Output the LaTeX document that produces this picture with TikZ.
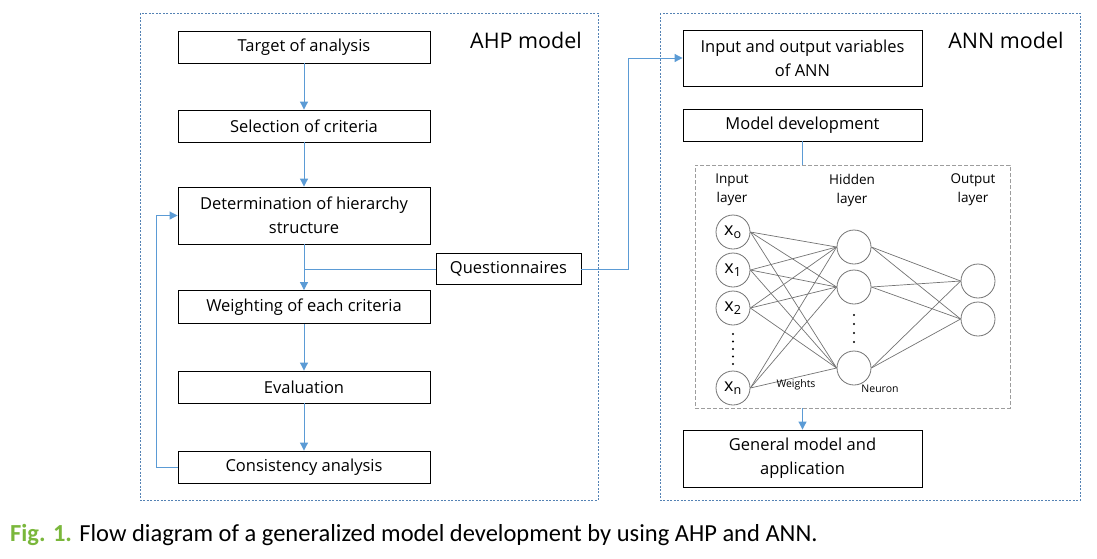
\documentclass[tikz,border=0pt]{standalone}
\usepackage{fontspec}
\setmainfont{Open Sans}
\newfontfamily\capfont{Carlito}
\usetikzlibrary{arrows.meta, positioning, calc}
\definecolor{flowBlue}{RGB}{91,155,213}
\definecolor{frameBlue}{RGB}{84,130,180}
\definecolor{netGray}{gray}{0.45}
\definecolor{capGreen}{RGB}{122,183,59}

\begin{document}
\begin{tikzpicture}[x=1pt, y=-1pt, >={Triangle[length=8pt, width=8pt]},
    stepbox/.style={draw, line width=0.9pt, minimum width=252, minimum height=32, align=center, font=\fontsize{16.5}{24}\selectfont, inner sep=0pt},
    flow/.style={flowBlue, line width=1pt},
    conn/.style={flow, ->},
    neuron/.style={draw=netGray, line width=0.8pt, circle, minimum size=34, inner sep=0pt, font=\fontsize{18}{18}\selectfont},
    netlabel/.style={align=center, font=\fontsize{13.5}{19}\selectfont}]
    \useasboundingbox (0,0) rectangle (1097,558);

    % Frames
    \draw[frameBlue, line width=0.9pt, dash pattern=on 2pt off 1.5pt] (140,13) rectangle (598,500);
    \draw[frameBlue, line width=0.9pt, dash pattern=on 2pt off 1.5pt] (660,13) rectangle (1080,500);
    \node[font=\fontsize{21.5}{21.5}\selectfont] (ahp) at (526,40) {AHP model};
    \node[font=\fontsize{21.5}{21.5}\selectfont] (ann) at (1006,40) {ANN model};

    % AHP steps
    \node[stepbox] (tgt) at (304,47) {Target of analysis};
    \node[stepbox] (sel) at (304,126) {Selection of criteria};
    \node[stepbox, minimum height=57] (det) at (304,215.5) {Determination of hierarchy\\structure};
    \node[stepbox, minimum height=33] (wgt) at (304,307) {Weighting of each criteria};
    \node[stepbox] (eva) at (304,387) {Evaluation};
    \node[stepbox] (cons) at (304,467) {Consistency analysis};
    \node[stepbox, minimum width=145, minimum height=31] (quest) at (508.5,269) {Questionnaires};

    \draw[conn] (tgt) -- (sel);
    \draw[conn] (sel) -- (det);
    \draw[conn] (det) -- (wgt);
    \draw[conn] (wgt) -- (eva);
    \draw[conn] (eva) -- (cons);
    \draw[flow] (quest.west) -- (quest.west -| det.south);
    \draw[conn] (cons.west) -- ++(-21,0) |- (det.west);

    % ANN steps
    \node[stepbox, minimum width=239, minimum height=56] (inp) at (802.5,58) {Input and output variables\\of ANN};
    \node[stepbox, minimum width=239] (dev) at (802.5,125) {Model development};
    \node[stepbox, minimum width=239, minimum height=57] (gen) at (802.5,458.5) {General model and\\application};
    \node[draw=netGray!70, line width=0.8pt, dash pattern=on 4pt off 2pt, minimum width=315, minimum height=243, inner sep=0pt] (net) at (852.5,286.5) {};
    \draw[conn] (quest.east) -- ++(47,0) |- (inp.west);
    \draw[flow] (dev.south) -- (dev.south |- net.north);
    \draw[conn] (gen.north |- net.south) -- (gen.north);

    % Network
    \node[netlabel] (inlab) at (732,190) {Input\\layer};
    \node[netlabel] (hidlab) at (852,190) {Hidden\\layer};
    \node[netlabel] (outlab) at (973,190) {Output\\layer};
    \node[neuron] (in0) at (733,232) {x\textsubscript{o}};
    \node[neuron] (in1) at (733,270) {x\textsubscript{1}};
    \node[neuron] (in2) at (733,308) {x\textsubscript{2}};
    \node[neuron] (in3) at (733,388) {x\textsubscript{n}};
    \node[neuron] (hid1) at (854,247) {};
    \node[neuron] (hid2) at (854,287) {};
    \node[neuron] (hid3) at (854,368) {};
    \node[neuron] (out1) at (978,281) {};
    \node[neuron] (out2) at (978,319) {};
    \foreach \i in {0,...,3}
        \foreach \j in {1,2,3}
            \draw[netGray, line width=0.7pt] (in\i.east) -- (hid\j.west);
    \foreach \j in {1,2,3}
        \foreach \k in {1,2}
            \draw[netGray, line width=0.7pt] (hid\j.east) -- (out\k.west);
    \foreach \d in {0,...,4}
        \fill (733,334+\d*7.5) circle (1.2);
    \foreach \d in {0,...,3}
        \fill (854,315+\d*9) circle (1.2);
    \node[font=\fontsize{10.5}{10.5}\selectfont] (wlab) at (796,385) {Weights};
    \node[font=\fontsize{10.5}{10.5}\selectfont] (nlab) at (880,389) {Neuron};

    % Caption
    \node[anchor=west, font=\capfont\fontsize{24.5}{24.5}\selectfont, inner sep=0pt] (cap) at (10,535)
        {\textcolor{capGreen}{\textbf{Fig. 1.}} Flow diagram of a generalized model development by using AHP and ANN.};
\end{tikzpicture}
\end{document}
